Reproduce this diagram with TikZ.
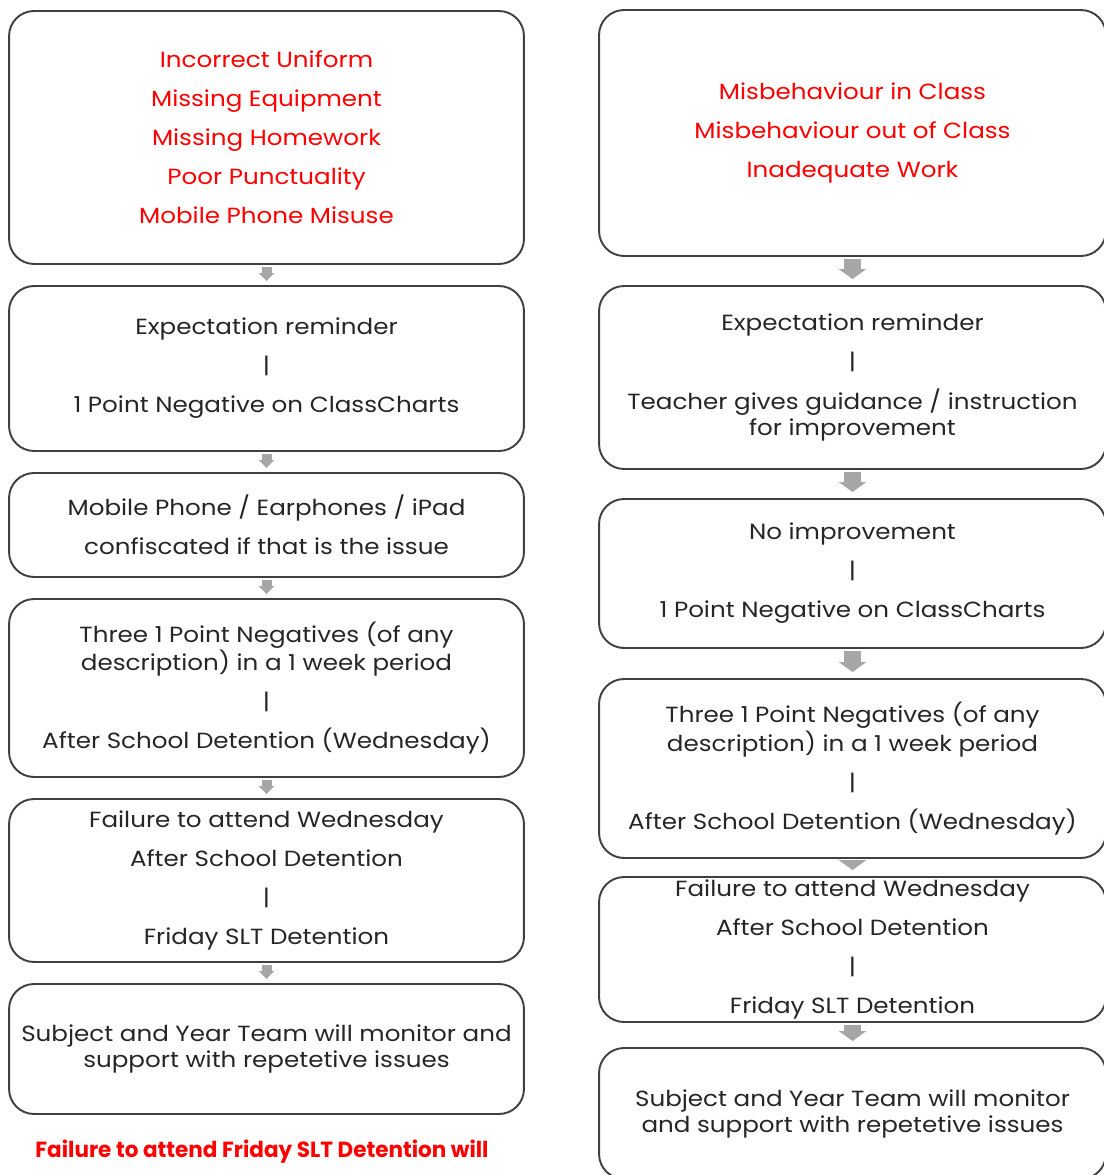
\documentclass[tikz,border=0pt]{standalone}
\usepackage{fontspec}
\setmainfont{Poppins}[FakeStretch=1.12]
\newfontfamily\notefont{Poppins}[FakeStretch=0.98]
\usetikzlibrary{arrows.meta}

\tikzset{
  box/.style={draw=black!75, line width=1.1pt, rounded corners=0.5cm, align=center,
    text=black!85, font=\fontsize{12.5}{14.8}\selectfont, inner sep=0pt},
  lbox/.style={box, minimum width=10.3cm},
  rbox/.style={box, minimum width=10.14cm},
  larrow/.style={-{Triangle[width=0.3cm,length=0.16cm]}, line width=0.2cm, black!35,
    shorten <=0.04cm, shorten >=0.08cm},
  rarrow/.style={-{Triangle[width=0.54cm,length=0.2cm]}, line width=0.34cm, black!35,
    shorten <=0.04cm, shorten >=0.12cm}
}

\begin{document}
\begin{tikzpicture}[x=0.02cm,y=-0.02cm]
  \useasboundingbox (0,0) rectangle (1104,1175);

  % left column
  \node[lbox,minimum height=5.06cm,text=red] (l1) at (266.5,137.5)
    {Incorrect Uniform\\[7.4pt]Missing Equipment\\[7.4pt]Missing Homework\\[7.4pt]Poor Punctuality\\[7.4pt]Mobile Phone Misuse};
  \node[lbox,minimum height=3.3cm] (l2) at (266.5,368.5)
    {Expectation reminder\\[7.4pt]|\\[7.4pt]1 Point Negative on ClassCharts};
  \node[lbox,minimum height=2.08cm] (l3) at (266.5,525)
    {Mobile Phone / Earphones / iPad\\[7.4pt]confiscated if that is the issue};
  \node[lbox,minimum height=3.56cm] (l4) at (266.5,688)
    {Three 1 Point Negatives (of any\\description) in a 1 week period\\[7.4pt]|\\[7.4pt]After School Detention (Wednesday)};
  \node[lbox,minimum height=3.26cm] (l5) at (266.5,880.5)
    {Failure to attend Wednesday\\[7.4pt]After School Detention\\[7.4pt]|\\[7.4pt]Friday SLT Detention};
  \node[lbox,minimum height=2.6cm] (l6) at (266.5,1049)
    {Subject and Year Team will monitor and\\support with repetetive issues};
  \node[text=red,font=\fontsize{12.5}{14.8}\notefont\bfseries] (note) at (262,1152)
    {Failure to attend Friday SLT Detention will};

  % right column
  \node[rbox,minimum height=4.92cm,text=red] (r1) at (852.5,133)
    {Misbehaviour in Class\\[7.4pt]Misbehaviour out of Class\\[7.4pt]Inadequate Work};
  \node[rbox,minimum height=3.66cm] (r2) at (852.5,377.5)
    {Expectation reminder\\[7.4pt]|\\[7.4pt]Teacher gives guidance / instruction\\for improvement};
  \node[rbox,minimum height=2.98cm] (r3) at (852.5,573.5)
    {No improvement\\[7.4pt]|\\[7.4pt]1 Point Negative on ClassCharts};
  \node[rbox,minimum height=3.58cm] (r4) at (852.5,768.5)
    {Three 1 Point Negatives (of any\\description) in a 1 week period\\[7.4pt]|\\[7.4pt]After School Detention (Wednesday)};
  \node[rbox,minimum height=2.9cm] (r5) at (852.5,949.5)
    {Failure to attend Wednesday\\[7.4pt]After School Detention\\[7.4pt]|\\[7.4pt]Friday SLT Detention};
  \node[rbox,minimum height=2.62cm] (r6) at (852.5,1113.5)
    {Subject and Year Team will monitor\\and support with repetetive issues};

  \draw[larrow] (l1) -- (l2);
  \draw[larrow] (l2) -- (l3);
  \draw[larrow] (l3) -- (l4);
  \draw[larrow] (l4) -- (l5);
  \draw[larrow] (l5) -- (l6);

  \draw[rarrow] (r1) -- (r2);
  \draw[rarrow] (r2) -- (r3);
  \draw[rarrow] (r3) -- (r4);
  \draw[rarrow] (r4) -- (r5);
  \draw[rarrow] (r5) -- (r6);
\end{tikzpicture}
\end{document}
